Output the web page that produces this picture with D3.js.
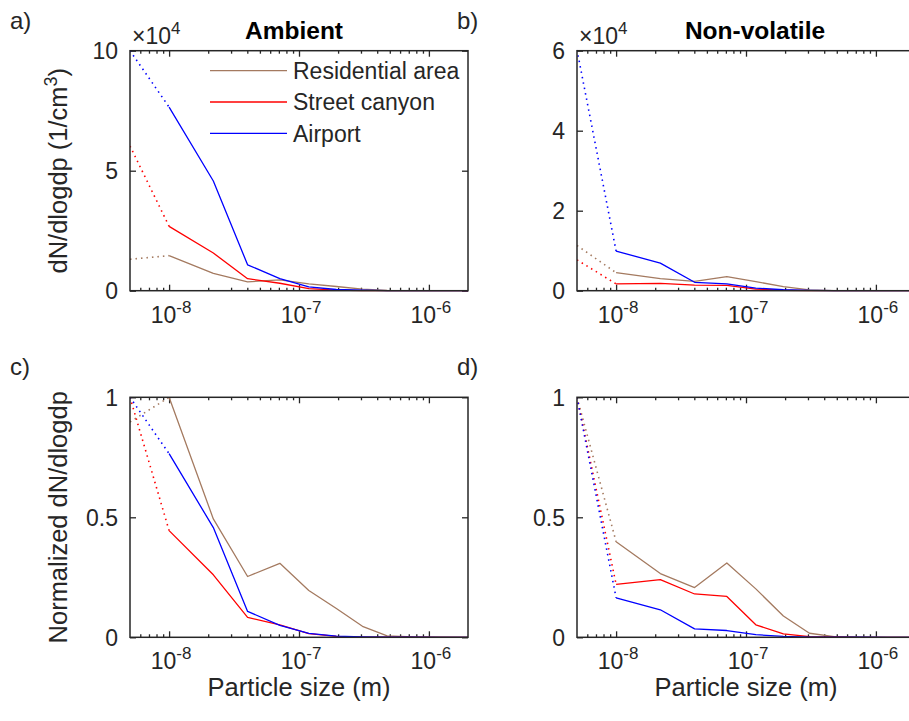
<!DOCTYPE html>
<html>
<head>
<meta charset="utf-8">
<script src="https://cdn.jsdelivr.net/npm/d3@7"></script>
<style>
  body { margin: 0; background: #fff; }
  svg { display: block; font-family: "Liberation Sans", Arial, sans-serif; }
  text { fill: #262626; }
</style>
</head>
<body>
<svg id="chart" width="909" height="721"></svg>
<script>
// particle size bin centres (m); first point is the extrapolated (dotted) one
const sizes = [5e-9, 1.0e-8, 2.19e-8, 4.02e-8, 7.12e-8, 1.19e-7, 1.94e-7, 3.08e-7, 4.77e-7, 7.51e-7, 1.23e-6, 2.0e-6];

// Ambient, dN/dlogdp in units of 1e4 1/cm3
const ambientResidential = [1.31, 1.46, 0.72, 0.37, 0.45, 0.285, 0.175, 0.067, 0.009, 0.002, 0.001, 0];
const ambientStreet = [6.03, 2.68, 1.57, 0.50, 0.31, 0.09, 0.025, 0.006, 0.002, 0.001, 0, 0];
const ambientAirport = [10.0, 7.65, 4.57, 1.08, 0.50, 0.16, 0.05, 0.02, 0.006, 0.002, 0.001, 0];

// Non-volatile, dN/dlogdp in units of 1e4 1/cm3
const nonvolResidential = [1.13, 0.45, 0.30, 0.234, 0.35, 0.228, 0.10, 0.019, 0.003, 0.001, 0, 0];
const nonvolStreet = [0.77, 0.17, 0.185, 0.139, 0.131, 0.040, 0.011, 0.002, 0.001, 0, 0, 0];
const nonvolAirport = [6.02, 0.99, 0.69, 0.21, 0.17, 0.066, 0.024, 0.006, 0.002, 0.001, 0, 0];

const seriesNames = ["Residential area", "Street canyon", "Airport"];
const seriesColors = ["#a47a60", "#ff0000", "#0000ff"];

const xMajorTicks = [1e-8, 1e-7, 1e-6];
const xMajorExp = ["-8", "-7", "-6"];

const svg = d3.select("#chart");
const axisColor = "#262626";
const xDomain = [5e-9, 2e-6];
const plotW = 338;
const plotH = 240;
const tickFont = 23;
const labelFont = 25.5;

let clipCount = 0;

function drawPanel(opt) {
  const g = svg.append("g").attr("transform", `translate(${opt.left}, ${opt.top})`);

  const x = d3.scaleLog().domain(xDomain).range([0, plotW]);
  const y = d3.scaleLinear().domain([0, opt.yMax]).range([plotH, 0]);

  const clipId = "clip" + clipCount++;
  g.append("clipPath").attr("id", clipId)
    .append("rect").attr("x", 0).attr("y", -1).attr("width", plotW).attr("height", plotH + 2);

  // minor ticks (2..9 x decade) bottom and top, inside
  const minor = [];
  for (let e = -9; e <= -6; e++) {
    for (let m = 2; m <= 9; m++) {
      const v = m * Math.pow(10, e);
      if (v > xDomain[0] && v < xDomain[1]) minor.push(v);
    }
  }
  const tickGroups = [
    g.append("g").attr("transform", `translate(0, ${plotH})`)
      .call(d3.axisBottom(x).tickValues(minor).tickSize(-3).tickFormat("")),
    g.append("g").attr("transform", `translate(0, ${plotH})`)
      .call(d3.axisBottom(x).tickValues(xMajorTicks).tickSize(-6).tickFormat("")),
    g.append("g")
      .call(d3.axisTop(x).tickValues(minor).tickSize(-3).tickFormat("")),
    g.append("g")
      .call(d3.axisTop(x).tickValues(xMajorTicks).tickSize(-6).tickFormat("")),
    g.append("g")
      .call(d3.axisLeft(y).tickValues(opt.yTicks).tickSize(-6).tickFormat("")),
    g.append("g").attr("transform", `translate(${plotW}, 0)`)
      .call(d3.axisRight(y).tickValues(opt.yTicks).tickSize(-6).tickFormat("")),
  ];
  tickGroups.forEach((tg) => {
    tg.select(".domain").remove();
    tg.selectAll("line").attr("stroke", axisColor).attr("stroke-width", 1.3);
  });

  // data lines: dotted first (extrapolated) segment, solid for the rest
  const line = d3.line().x((d) => x(d[0])).y((d) => y(d[1]));
  const plot = g.append("g").attr("clip-path", `url(#${clipId})`);
  opt.series.forEach((vals, i) => {
    const pts = sizes.map((s, k) => [s, vals[k] / opt.scale(vals)]);
    plot.append("path")
      .attr("d", line(pts.slice(0, 2)))
      .attr("fill", "none")
      .attr("stroke", seriesColors[i])
      .attr("stroke-width", 1.6)
      .attr("stroke-dasharray", "1.5,4");
    plot.append("path")
      .attr("d", line(pts.slice(1)))
      .attr("fill", "none")
      .attr("stroke", seriesColors[i])
      .attr("stroke-width", 1.3)
      .attr("stroke-linejoin", "round");
  });

  // frame
  g.append("rect")
    .attr("width", plotW).attr("height", plotH)
    .attr("fill", "none").attr("stroke", axisColor).attr("stroke-width", 1.5);

  // y tick labels
  g.selectAll(".ylab").data(opt.yTicks).enter().append("text")
    .attr("x", -12).attr("y", (d) => y(d))
    .attr("dy", "0.36em")
    .attr("text-anchor", "end")
    .attr("font-size", tickFont)
    .text((d, i) => opt.yTickLabels[i]);

  // x tick labels, 10^n
  xMajorTicks.forEach((t, i) => {
    const tx = g.append("text")
      .attr("x", x(t) + 2).attr("y", plotH + 32)
      .attr("text-anchor", "middle")
      .attr("font-size", tickFont);
    tx.append("tspan").text("10");
    tx.append("tspan").attr("dy", -10).attr("font-size", 17).text(xMajorExp[i]);
  });

  if (opt.exponent) {
    const ex = g.append("text").attr("x", 2).attr("y", -7).attr("font-size", tickFont);
    ex.append("tspan").text("\u00d710");
    ex.append("tspan").attr("dy", -10).attr("font-size", 17).text(opt.exponent);
  }

  if (opt.title) {
    g.append("text")
      .attr("x", plotW / 2 + opt.titleDx).attr("y", -12)
      .attr("text-anchor", "middle")
      .attr("font-size", 24.5).attr("font-weight", "bold")
      .style("fill", "#000")
      .text(opt.title);
  }

  if (opt.yLabel) {
    const yl = g.append("text")
      .attr("transform", `translate(-63, ${plotH / 2}) rotate(-90)`)
      .attr("text-anchor", "middle")
      .attr("font-size", labelFont);
    opt.yLabel(yl);
  }

  if (opt.xLabel) {
    g.append("text")
      .attr("x", plotW / 2).attr("y", plotH + 59)
      .attr("text-anchor", "middle")
      .attr("font-size", labelFont)
      .text(opt.xLabel);
  }

  svg.append("text")
    .attr("x", opt.left - 120).attr("y", opt.top - 22)
    .attr("font-size", 24)
    .text(opt.letter);

  if (opt.legend) {
    const lg = g.append("g").attr("transform", "translate(80, 20)");
    seriesNames.forEach((name, i) => {
      lg.append("line")
        .attr("x1", 0).attr("x2", 77)
        .attr("y1", i * 31.3).attr("y2", i * 31.3)
        .attr("stroke", seriesColors[i]).attr("stroke-width", 1.3);
      lg.append("text")
        .attr("x", 83).attr("y", i * 31.3)
        .attr("dy", "0.36em")
        .attr("font-size", tickFont)
        .text(name);
    });
  }
}

const rawScale = () => 1;
const maxScale = (vals) => d3.max(vals);

drawPanel({
  left: 130, top: 50.7, letter: "a)", title: "Ambient", titleDx: -5,
  series: [ambientResidential, ambientStreet, ambientAirport],
  scale: rawScale, yMax: 10, yTicks: [0, 5, 10], yTickLabels: ["0", "5", "10"],
  exponent: "4", legend: true,
  yLabel: (t) => {
    t.append("tspan").text("dN/dlogdp (1/cm");
    t.append("tspan").attr("dy", -10).attr("font-size", 18).text("3");
    t.append("tspan").attr("dy", 10).text(")");
  },
});

drawPanel({
  left: 577, top: 50.7, letter: "b)", title: "Non-volatile", titleDx: 9,
  series: [nonvolResidential, nonvolStreet, nonvolAirport],
  scale: rawScale, yMax: 6, yTicks: [0, 2, 4, 6], yTickLabels: ["0", "2", "4", "6"],
  exponent: "4",
});

drawPanel({
  left: 130, top: 397.3, letter: "c)",
  series: [ambientResidential, ambientStreet, ambientAirport],
  scale: maxScale, yMax: 1, yTicks: [0, 0.5, 1], yTickLabels: ["0", "0.5", "1"],
  yLabel: (t) => t.text("Normalized dN/dlogdp"),
  xLabel: "Particle size (m)",
});

drawPanel({
  left: 577, top: 397.3, letter: "d)",
  series: [nonvolResidential, nonvolStreet, nonvolAirport],
  scale: maxScale, yMax: 1, yTicks: [0, 0.5, 1], yTickLabels: ["0", "0.5", "1"],
  xLabel: "Particle size (m)",
});
</script>
</body>
</html>
